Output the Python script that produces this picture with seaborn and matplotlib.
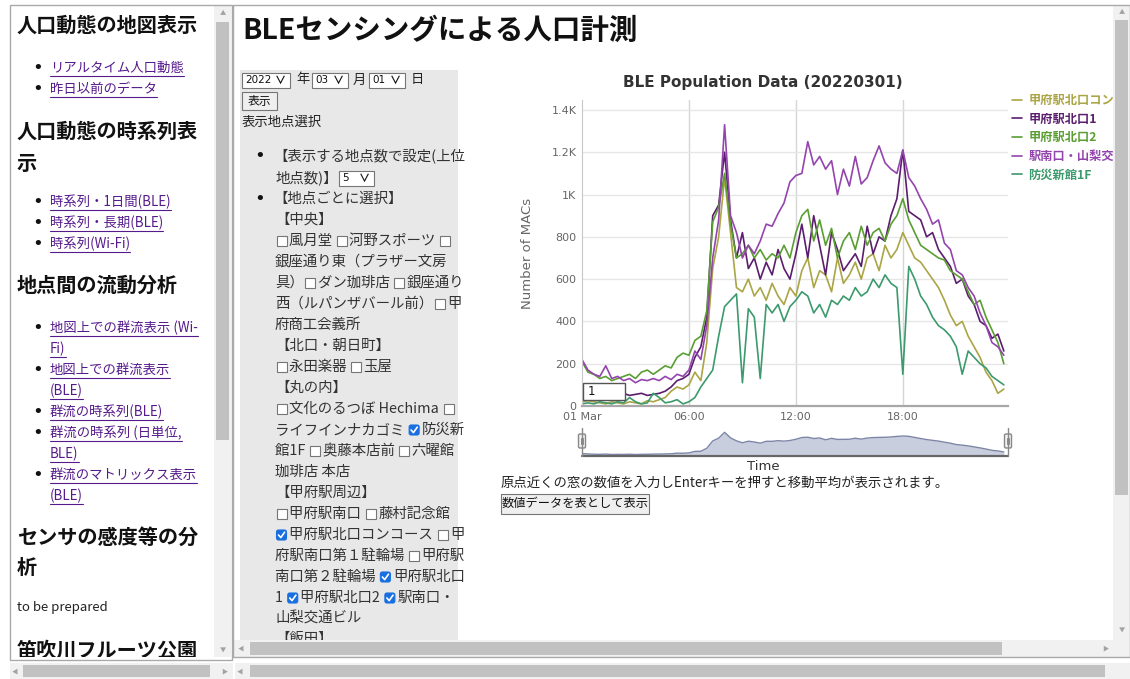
"""
BLE population page: time series of MAC counts per sensing site
"""

import numpy as np
import pandas as pd
import matplotlib
matplotlib.use("Agg")
import matplotlib.pyplot as plt
from matplotlib.patches import Rectangle, FancyBboxPatch
import seaborn as sns


SITES = ["甲府駅北口コンコース", "甲府駅北口1", "甲府駅北口2", "駅南口・山梨交通ビル", "防災新館1F"]
COLORS = ["#aaa545", "#5b1e6e", "#5a9e32", "#9345ad", "#3c9a6c"]
TIMES = pd.date_range("2022-03-01 00:00", periods=72, freq="20min")

# values every 20 minutes (rows of 4 hours)
konkosu = [
    20, 25, 20, 15, 10, 20, 15, 10, 20, 15, 10, 25,
    20, 30, 40, 70, 90, 80, 100, 160, 120, 300, 650, 800,
    1080, 820, 560, 540, 600, 520, 560, 500, 580, 520, 480, 560,
    520, 640, 700, 560, 640, 620, 540, 700, 580, 620, 680, 600,
    700, 720, 640, 760, 700, 740, 820, 760, 700, 680, 640, 600,
    560, 500, 430, 380, 400, 330, 280, 230, 160, 120, 60, 80,
]
kitaguchi1 = [
    80, 70, 60, 55, 60, 50, 55, 60, 50, 55, 60, 50,
    55, 60, 70, 90, 120, 130, 150, 230, 280, 420, 900, 950,
    1200, 880, 700, 820, 650, 700, 600, 680, 620, 740, 650, 600,
    720, 860, 700, 900, 760, 620, 820, 740, 640, 680, 720, 660,
    850, 720, 800, 780, 900, 980, 1210, 920, 900, 880, 800, 820,
    740, 700, 660, 580, 600, 520, 480, 400, 380, 320, 340, 260,
]
kitaguchi2 = [
    210, 160, 150, 130, 140, 120, 130, 140, 150, 130, 160, 170,
    150, 170, 190, 180, 230, 250, 240, 310, 330, 450, 870, 940,
    1100, 860, 700, 720, 760, 700, 740, 690, 720, 700, 760, 700,
    820, 900, 930, 780, 880, 760, 840, 700, 780, 820, 740, 850,
    760, 820, 840, 780, 860, 900, 980, 880, 820, 760, 740, 720,
    700, 690, 640, 620, 600, 540, 480, 500, 420, 360, 300, 200,
]
minamiguchi = [
    220, 170, 150, 140, 190, 130, 140, 120, 130, 110, 125, 120,
    130, 120, 140, 125, 150, 140, 170, 260, 220, 380, 700, 880,
    1330, 900, 820, 700, 760, 720, 780, 860, 850, 910, 960, 1060,
    1090, 1100, 1250, 1140, 1180, 1120, 1160, 1000, 1120, 1040, 1180, 1050,
    1080, 1160, 1230, 1150, 1120, 1100, 1210, 1080, 1040, 980, 930, 860,
    880, 770, 740, 640, 620, 560, 520, 440, 380, 300, 280, 240,
]
bousai = [
    10, 15, 10, 20, 15, 10, 20, 15, 40, 20, 10, 15,
    60, 40, 15, 20, 30, 10, 20, 40, 90, 130, 170, 330,
    470, 500, 530, 110, 460, 420, 130, 480, 440, 480, 400, 470,
    500, 540, 520, 440, 480, 420, 500, 480, 520, 500, 560, 520,
    540, 600, 560, 620, 580, 560, 150, 660, 600, 520, 480, 420,
    380, 360, 330, 280, 150, 260, 230, 200, 180, 140, 120, 100,
]

Y_TICKS = [0, 200, 400, 600, 800, 1000, 1200, 1400]
Y_LABELS = ["0", "200", "400", "600", "800", "1K", "1.2K", "1.4K"]
X_LABELS = ["01 Mar", "06:00", "12:00", "18:00"]

SIDEBAR = [
    ("h", 25, "人口動態の地図表示"),
    ("li", 68, "リアルタイム人口動態"),
    ("li", 89, "昨日以前のデータ"),
    ("h", 131, "人口動態の時系列表"),
    ("h", 163, "示"),
    ("li", 202, "時系列・1日間(BLE)"),
    ("li", 223, "時系列・長期(BLE)"),
    ("li", 244, "時系列(Wi-Fi)"),
    ("h", 285, "地点間の流動分析"),
    ("li", 328, "地図上での群流表示 (Wi-"),
    ("l", 349, "Fi)"),
    ("li", 370, "地図上での群流表示"),
    ("l", 391, "(BLE)"),
    ("li", 412, "群流の時系列(BLE)"),
    ("li", 433, "群流の時系列 (日単位,"),
    ("l", 454, "BLE)"),
    ("li", 475, "群流のマトリックス表示"),
    ("l", 496, "(BLE)"),
    ("h", 537, "センサの感度等の分"),
    ("h", 567, "析"),
    ("p", 608, "to be prepared"),
    ("h", 650, "笛吹川フルーツ公園"),
]

FORM_LINES = [
    (156, "【表示する地点数で設定(上位"),
    (178, "地点数)】"),
    (199, "【地点ごとに選択】"),
    (220, "【中央】"),
    (241, "□風月堂 □河野スポーツ □"),
    (262, "銀座通り東（プラザー文房"),
    (283, "具）□ダン珈琲店 □銀座通り"),
    (304, "西（ルパンザバール前）□甲"),
    (325, "府商工会義所"),
    (346, "【北口・朝日町】"),
    (367, "□永田楽器 □玉屋"),
    (388, "【丸の内】"),
    (409, "□文化のるつぼ Hechima □"),
    (430, "ライフインナカゴミ ☑防災新"),
    (451, "館1F □奥藤本店前 □六曜館"),
    (472, "珈琲店 本店"),
    (493, "【甲府駅周辺】"),
    (514, "□甲府駅南口 □藤村記念館"),
    (535, "☑甲府駅北口コンコース □甲"),
    (556, "府駅南口第１駐輪場 □甲府駅"),
    (577, "南口第２駐輪場 ☑甲府駅北口"),
    (598, "1 ☑甲府駅北口2 ☑駅南口・"),
    (619, "山梨交通ビル"),
    (639, "【飯田】"),
]

CJK = ["Noto Sans CJK JP", "DejaVu Sans"]
W, H = 1130, 679


def fx(px):
    return px / W


def fy(py):
    return 1 - py / H


sns.set_style("white")
plt.rcParams["font.family"] = CJK

frames = []
for site, vals in zip(SITES, [konkosu, kitaguchi1, kitaguchi2, minamiguchi, bousai]):
    frames.append(pd.DataFrame({"time": TIMES, "macs": vals, "site": site}))
df = pd.concat(frames, ignore_index=True)

fig = plt.figure(figsize=(W / 100, H / 100), dpi=100)
renderer = fig.canvas.get_renderer()

# page layer in pixel coordinates
page = fig.add_axes([0, 0, 1, 1], zorder=0)
page.set_xlim(0, W)
page.set_ylim(H, 0)
page.axis("off")

# ---- left sidebar
for kind, y, s in SIDEBAR:
    if kind == "h":
        page.text(17, y, s, fontsize=14.5, weight="bold", color="#111", va="center")
    elif kind == "p":
        page.text(17, y, s, fontsize=9.5, color="#222", va="center")
    else:
        if kind == "li":
            page.text(38, y, "•", fontsize=13, color="#111", va="center", ha="center",
                      family="DejaVu Sans")
        t = page.text(50, y, s, fontsize=9.6, color="#551a8b", va="center")
        bb = t.get_window_extent(renderer)
        page.plot([bb.x0, bb.x1], [y + 7.5, y + 7.5], color="#551a8b", lw=0.8)

# ---- right pane header and form
page.text(242, 31, "BLEセンシングによる人口計測", fontsize=20.5, weight="bold",
          color="#111", va="center")
page.add_patch(Rectangle((240, 70), 218, 570, fc="#e8e8e8", ec="none"))


def select_box(x0, x1, y, label):
    page.add_patch(Rectangle((x0, y - 7.5), x1 - x0, 15, fc="white", ec="#767676", lw=0.8))
    page.text(x0 + 3, y, label, fontsize=7.5, color="#111", va="center", family="DejaVu Sans")
    page.text(x1 - 4, y, "∨", fontsize=8, weight="bold", color="#111", va="center", ha="right")


select_box(242, 290, 80, "2022")
page.text(296, 80, "年", fontsize=9.5, color="#222", va="center")
select_box(312, 348, 80, "03")
page.text(353, 80, "月", fontsize=9.5, color="#222", va="center")
select_box(369, 405, 80, "01")
page.text(411, 80, "日", fontsize=9.5, color="#222", va="center")
page.add_patch(Rectangle((242, 92), 35, 18, fc="#efefef", ec="#767676", lw=0.8))
page.text(259.5, 101, "表示", fontsize=8.5, color="#111", va="center", ha="center")
page.text(242, 122, "表示地点選択", fontsize=9.6, color="#222", va="center")
page.text(260, 156, "•", fontsize=13, color="#111", va="center", ha="center", family="DejaVu Sans")
page.text(260, 199, "•", fontsize=13, color="#111", va="center", ha="center", family="DejaVu Sans")
select_box(339, 374, 178, "5")


def form_line(x, y, s, size=10.4):
    buf = ""
    for ch in s + "\0":
        if ch in "□☑\0":
            if buf:
                t = page.text(x, y, buf, fontsize=size, color="#333", va="center")
                x += t.get_window_extent(renderer).width
                buf = ""
            if ch == "□":
                page.add_patch(Rectangle((x + 1.5, y - 5), 10, 10, fc="white",
                                         ec="#767676", lw=0.8))
                x += 14
            elif ch == "☑":
                page.add_patch(FancyBboxPatch((x + 1.5, y - 5), 10, 10,
                                              boxstyle="round,pad=0,rounding_size=2",
                                              fc="#1a6fe0", ec="#1a6fe0", lw=0.8))
                page.plot([x + 3.5, x + 5.8, x + 9.6], [y, y + 2.6, y - 2.8],
                          color="white", lw=1.2, solid_capstyle="round")
                x += 14
        else:
            buf += ch


for y, s in FORM_LINES:
    form_line(273 if s.startswith("【") and y < 200 else 275, y, s)

# ---- chart
ax = fig.add_axes([fx(582), fy(406), (1008 - 582) / W, (406 - 100) / H], zorder=2)
sns.lineplot(
    data=df, x="time", y="macs", hue="site", hue_order=SITES,
    palette=dict(zip(SITES, COLORS)), linewidth=1.2, ax=ax,
)
t0 = pd.Timestamp("2022-03-01 00:00")
ax.set_xlim(t0, t0 + pd.Timedelta(minutes=1434))
ax.set_ylim(0, 1447)
ax.set_yticks(Y_TICKS)
ax.set_yticklabels(Y_LABELS, family="DejaVu Sans")
ax.set_xticks([t0 + pd.Timedelta(hours=h) for h in (0, 6, 12, 18)])
ax.set_xticklabels(X_LABELS, family="DejaVu Sans")
ax.tick_params(length=0, labelsize=8, colors="#666", pad=4)
ax.grid(axis="y", color="#e6e6e6", lw=1)
for h in (6, 12, 18):
    ax.axvline(t0 + pd.Timedelta(hours=h), color="#d6d6d6", lw=1, zorder=0)
for side in ("top", "right"):
    ax.spines[side].set_visible(False)
ax.spines["left"].set_color("#c8c8c8")
ax.spines["bottom"].set_color("#a8a8a8")
ax.spines["bottom"].set_linewidth(1.6)
ax.set_xlabel("")
ax.set_ylabel("Number of MACs", fontsize=9.5, color="#666", family="DejaVu Sans")
ax.yaxis.set_label_coords(-0.113, 0.5)
ax.text(0.425, 1.056, "BLE Population Data (20220301)", transform=ax.transAxes,
        fontsize=11, weight="bold", color="#333", ha="center", va="center",
        family="DejaVu Sans")
sns.move_legend(
    ax, "upper left", bbox_to_anchor=(1.0094, 1.0196), frameon=False, title=None,
    borderpad=0, borderaxespad=0, handlelength=0.8, handletextpad=0.55,
    labelspacing=0.46, labelcolor="linecolor",
    prop={"family": CJK, "weight": "bold", "size": 8.8},
)

# navigator
mean = df.groupby("time")["macs"].mean()
nav = fig.add_axes([fx(582), fy(456), 426 / W, 27 / H], zorder=2)
nav.fill_between(mean.index, mean.values, color="#c9cedf", lw=0)
sns.lineplot(x=mean.index, y=mean.values, ax=nav, color="#7d86a6", linewidth=1)
nav.set_xlim(t0, t0 + pd.Timedelta(minutes=1434))
nav.set_ylim(0, 1180)
nav.axis("off")

page.text(763, 467, "Time", fontsize=9.5, color="#333", ha="center", va="center",
          family="DejaVu Sans")
page.text(501, 483, "原点近くの窓の数値を入力しEnterキーを押すと移動平均が表示されます。",
          fontsize=9.6, color="#222", va="center")
page.add_patch(Rectangle((501, 494), 148, 20, fc="#efefef", ec="#767676", lw=0.8))
page.text(575, 504, "数値データを表として表示", fontsize=8.8, color="#111",
          ha="center", va="center")

# ---- chrome on top: input box, navigator handles, scrollbars, borders
chrome = fig.add_axes([0, 0, 1, 1], zorder=10)
chrome.set_xlim(0, W)
chrome.set_ylim(H, 0)
chrome.axis("off")

chrome.add_patch(Rectangle((583, 383), 42, 17, fc="white", ec="#555", lw=1))
chrome.text(588, 391.5, "1", fontsize=8.5, color="#111", va="center", family="DejaVu Sans")

chrome.plot([582, 1008], [456, 456], color="#666", lw=1.6)
for hx in (582, 1008):
    chrome.plot([hx, hx], [428, 456], color="#888", lw=1)
    chrome.add_patch(FancyBboxPatch((hx - 3.5, 434), 7, 14,
                                    boxstyle="round,pad=0,rounding_size=1.5",
                                    fc="#f2f2f2", ec="#888", lw=1))
    chrome.plot([hx - 1, hx - 1], [438, 444], color="#888", lw=0.7)
    chrome.plot([hx + 1, hx + 1], [438, 444], color="#888", lw=0.7)

track, thumb, arrow = "#f1f1f1", "#c1c1c1", "#a3a3a3"
# left pane vertical scrollbar
chrome.add_patch(Rectangle((214, 6), 17, 654, fc=track, ec="none"))
chrome.add_patch(Rectangle((216, 22), 13, 418, fc=thumb, ec="none"))
chrome.text(222.5, 13, "▲", fontsize=4.5, color=arrow, ha="center", va="center")
chrome.text(222.5, 651, "▼", fontsize=4.5, color=arrow, ha="center", va="center")
# right pane vertical scrollbar
chrome.add_patch(Rectangle((1113, 6), 17, 634, fc=track, ec="none"))
chrome.add_patch(Rectangle((1115, 20), 13, 475, fc=thumb, ec="none"))
chrome.text(1121.5, 12, "▲", fontsize=4.5, color=arrow, ha="center", va="center")
chrome.text(1121.5, 631, "▼", fontsize=4.5, color=arrow, ha="center", va="center")
# right pane horizontal scrollbar
chrome.add_patch(Rectangle((234, 640), 896, 17, fc=track, ec="none"))
chrome.add_patch(Rectangle((250, 642), 752, 13, fc=thumb, ec="none"))
chrome.text(241, 648.5, "◀", fontsize=4.5, color=arrow, ha="center", va="center")
chrome.text(1105, 648.5, "▶", fontsize=4.5, color=arrow, ha="center", va="center")
# white gap and page bottom scrollbars
chrome.add_patch(Rectangle((0, 657), W, 6, fc="white", ec="none"))
chrome.add_patch(Rectangle((10, 663), 223, 16, fc=track, ec="none"))
chrome.add_patch(Rectangle((23, 665), 187, 12, fc=thumb, ec="none"))
chrome.text(15, 671, "◀", fontsize=4.5, color=arrow, ha="center", va="center")
chrome.text(224, 671, "▶", fontsize=4.5, color=arrow, ha="center", va="center")
chrome.add_patch(Rectangle((235, 663), 895, 16, fc=track, ec="none"))
chrome.add_patch(Rectangle((250, 665), 855, 12, fc=thumb, ec="none"))
chrome.text(240, 671, "◀", fontsize=4.5, color=arrow, ha="center", va="center")
# pane borders
chrome.add_patch(Rectangle((10, 5), 222, 655, fc="none", ec="#a9a9a9", lw=1))
chrome.add_patch(Rectangle((233, 5), 897, 652, fc="none", ec="#a9a9a9", lw=1))

fig.savefig("out.png", dpi=100)
